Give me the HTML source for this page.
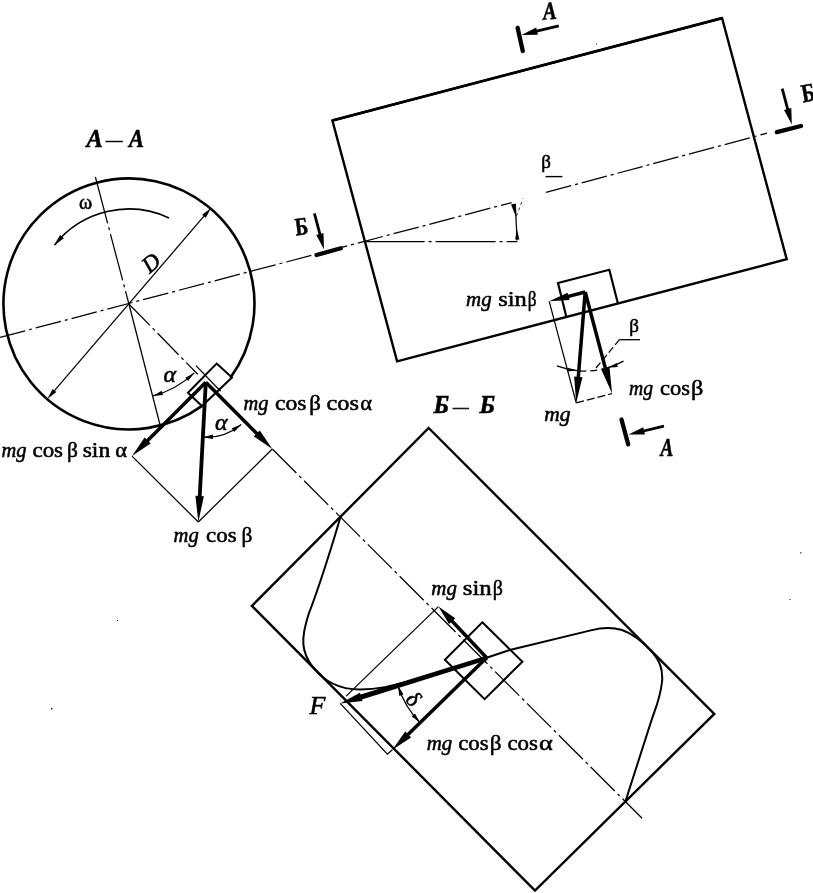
<!DOCTYPE html>
<html><head><meta charset="utf-8"><title>Forces on a particle in a rotating inclined drum</title>
<style>
html,body{margin:0;padding:0;background:#fff;}
svg{display:block;filter:grayscale(1);}
svg line,svg .n{stroke:#000;fill:none;}
svg .f{fill:#000;stroke:none;}
svg text{font-family:"Liberation Serif","DejaVu Serif",serif;fill:#000;stroke:#000;stroke-width:0.55px;}
svg .i{font-style:italic;}
svg .b{font-weight:bold;}
svg .bi{font-weight:bold;font-style:italic;}
</style></head><body>
<svg width="813" height="893" viewBox="0 0 813 893">
<rect x="0" y="0" width="813" height="893" fill="#fff"/>
<g>
<path class="n" d="M230.4,377.8 A125.5,125.5 0 1 0 202.1,405.9" stroke-width="2.6"/>
<line x1="0.0" y1="337.4" x2="511.6" y2="202.6" stroke-width="1.25" stroke-dasharray="26 4 3 4"/>
<line x1="546.0" y1="192.4" x2="767.0" y2="133.2" stroke-width="1.25" stroke-dasharray="26 4 3 4"/>
<line x1="95.4" y1="177.0" x2="128.9" y2="304.0" stroke-width="1.25" stroke-dasharray="48 4 3 4"/>
<line x1="128.9" y1="304.0" x2="160.6" y2="427.0" stroke-width="1.25"/>
<polygon class="f" points="47.3,398.9 52.6,389.0 56.3,392.1"/>
<line x1="52.3" y1="393.1" x2="206.1" y2="213.7" stroke-width="1.25"/>
<polygon class="f" points="211.1,207.9 205.8,217.8 202.1,214.7"/>
<line x1="128.9" y1="304.0" x2="197.8" y2="374.3" stroke-width="1.25" stroke-dasharray="30 4 3 4"/>
<polygon class="n" points="216.6,363.6 232.0,377.4 201.9,406.0 188.0,392.7" stroke-width="2"/>
<line x1="195.9" y1="365.6" x2="220.6" y2="391.2" stroke-width="1.25"/>
<line x1="205.8" y1="382.3" x2="142.9" y2="445.2" stroke-width="3.5"/>
<polygon class="f" points="132.0,456.1 144.6,437.5 150.6,443.5"/>
<line x1="205.8" y1="382.3" x2="199.3" y2="503.8" stroke-width="3.8"/>
<polygon class="f" points="198.3,522.0 195.4,495.8 203.9,496.3"/>
<line x1="205.8" y1="382.3" x2="261.4" y2="438.1" stroke-width="3.5"/>
<polygon class="f" points="272.3,449.0 253.8,436.4 259.8,430.4"/>
<line x1="132.0" y1="456.1" x2="198.3" y2="522.0" stroke-width="1.25"/>
<line x1="272.3" y1="449.0" x2="198.3" y2="522.0" stroke-width="1.25"/>
<line x1="272.3" y1="449.0" x2="642.1" y2="818.3" stroke-width="1.25" stroke-dasharray="34 4 3 4"/>
<path class="n" d="M152.8,395.9 A95,95 0 0 0 194.3,372.9" stroke-width="1.25"/>
<polygon class="f" points="152.8,395.9 161.7,390.8 163.0,395.0"/>
<polygon class="f" points="194.3,372.9 188.1,381.1 185.3,377.7"/>
<path class="n" d="M202.9,437.2 A55,55 0 0 0 241.2,424.4" stroke-width="1.25"/>
<polygon class="f" points="202.9,437.2 212.8,434.6 213.0,439.0"/>
<polygon class="f" points="241.2,424.4 234.2,431.9 231.7,428.3"/>
<path class="n" d="M169.0,217.9 A95,95 0 0 0 54.6,244.9" stroke-width="1.6"/>
<polygon class="f" points="54.0,245.5 60.1,234.9 63.9,238.2"/>
<polygon class="n" points="332.4,120.5 722.1,18.2 786.7,259.2 397.1,361.3" stroke-width="2.4"/>
<line x1="332.4" y1="120.5" x2="722.1" y2="18.2" stroke-width="2.8"/>
<line x1="364.6" y1="241.7" x2="517.3" y2="241.7" stroke-width="1.25" stroke-dasharray="60 4 3 4"/>
<line x1="515.3" y1="204.0" x2="517.1" y2="240.5" stroke-width="1.25"/>
<polygon class="f" points="516.3,217.8 511.0,204.6 515.5,203.6"/>
<polygon class="f" points="516.8,229.0 519.4,239.4 515.2,239.6"/>
<line x1="516.5" y1="216.0" x2="523.0" y2="198.5" stroke-width="0.8" stroke-dasharray="3 3"/>
<line x1="545.6" y1="176.6" x2="562.4" y2="176.6" stroke-width="1.4"/>
<polyline class="n" points="566.2,316.3 558.0,283.0 609.3,269.8 617.8,303.0" stroke-width="2.2"/>
<line x1="585.2" y1="292.0" x2="562.8" y2="297.8" stroke-width="3.4"/>
<polygon class="f" points="549.2,301.3 567.6,292.7 569.5,299.9"/>
<line x1="585.2" y1="292.0" x2="577.7" y2="384.7" stroke-width="3.5"/>
<polygon class="f" points="576.2,402.8 574.1,376.5 582.5,377.2"/>
<line x1="585.2" y1="292.0" x2="607.4" y2="375.9" stroke-width="3.5"/>
<polygon class="f" points="612.1,393.5 601.3,369.5 609.5,367.3"/>
<line x1="549.2" y1="301.3" x2="576.2" y2="402.8" stroke-width="1.25"/>
<line x1="576.2" y1="402.8" x2="612.1" y2="393.5" stroke-width="1.25" stroke-dasharray="8 3"/>
<path class="n" d="M579.3,370.8 A79,79 0 0 0 605.9,368.2" stroke-width="1.25" stroke-dasharray="7 4"/>
<path class="n" d="M556.9,365.8 A79,79 0 0 0 579.3,370.8" stroke-width="1.25"/>
<path class="n" d="M605.9,368.2 A79,79 0 0 0 623.5,361.1" stroke-width="1.25"/>
<polygon class="f" points="577.6,370.6 567.5,371.6 567.9,367.7"/>
<polygon class="f" points="607.6,367.7 616.7,363.1 617.8,367.0"/>
<line x1="596.0" y1="368.0" x2="619.4" y2="339.7" stroke-width="1.25" stroke-dasharray="7 3"/>
<line x1="619.4" y1="339.7" x2="640.0" y2="339.7" stroke-width="1.3"/>
<line x1="517.6" y1="27.8" x2="522.8" y2="51.0" stroke-width="4.3" stroke-linecap="round"/>
<line x1="558.8" y1="25.8" x2="532.4" y2="32.2" stroke-width="2.8"/>
<polygon class="f" points="521.5,34.9 536.2,27.5 537.9,34.8"/>
<line x1="316.5" y1="255.0" x2="340.8" y2="248.3" stroke-width="4.3" stroke-linecap="round"/>
<line x1="314.4" y1="213.3" x2="321.1" y2="238.7" stroke-width="2.8"/>
<polygon class="f" points="324.0,249.5 316.3,235.0 323.5,233.1"/>
<line x1="776.8" y1="132.1" x2="801.0" y2="126.0" stroke-width="4.3" stroke-linecap="round"/>
<line x1="782.2" y1="88.7" x2="788.9" y2="113.7" stroke-width="2.8"/>
<polygon class="f" points="791.8,124.5 784.0,110.0 791.3,108.1"/>
<line x1="621.5" y1="419.5" x2="628.2" y2="444.4" stroke-width="4.3" stroke-linecap="round"/>
<line x1="664.0" y1="426.1" x2="639.4" y2="432.0" stroke-width="2.8"/>
<polygon class="f" points="628.5,434.6 643.2,427.2 644.9,434.5"/>
<polygon class="n" points="428.7,428.0 714.3,713.9 535.0,890.6 251.9,605.9" stroke-width="2.4"/>
<polygon class="n" points="482.3,622.3 522.4,661.7 484.6,699.1 444.9,659.7" stroke-width="2"/>
<path class="n" stroke-width="2" d="M340.5,516.5 C334,540 318,590 309,613 C300,640 302,652 312,666 C324,682 340,689.5 360,689.5 C378,689.5 392,686 410,681"/>
<path class="n" stroke-width="2" d="M486.6,657.8 L509.8,650 L591.8,630.1 C600,628 612,627 622,630 C634,634 646,645 653,653 C661,662 663,672 662,682 C660,700 654,712 651.5,720.3 L625.4,801.5"/>
<line x1="486.6" y1="657.8" x2="448.0" y2="616.8" stroke-width="3.5"/>
<polygon class="f" points="438.4,606.6 455.2,618.2 449.0,624.1"/>
<line x1="486.6" y1="657.8" x2="403.4" y2="739.0" stroke-width="3.5"/>
<polygon class="f" points="392.4,749.8 405.2,731.4 411.1,737.5"/>
<polygon class="f" points="487.0,655.6 487.6,660.0 357,701.0 355.5,696.2"/>
<line x1="400.0" y1="684.8" x2="354.9" y2="698.8" stroke-width="4.2"/>
<polygon class="f" points="340.2,703.4 359.9,692.8 362.5,700.9"/>
<line x1="438.4" y1="606.6" x2="346.1" y2="696.1" stroke-width="1.25"/>
<polyline class="n" points="340.2,703.4 387.4,754.2 392.4,749.8" stroke-width="1.25"/>
<path class="n" d="M398.2,686.5 A93,93 0 0 0 420.3,723.0" stroke-width="1.25"/>
<polygon class="f" points="397.9,685.8 403.5,694.3 399.3,695.9"/>
<polygon class="f" points="419.9,722.6 411.7,716.6 415.0,713.6"/>
<rect class="f" x="800.2" y="552.3" width="1.2" height="1.2"/>
<rect class="f" x="789.5" y="599" width="1" height="1"/>
<rect class="f" x="117" y="620" width="1" height="1"/>
<rect class="f" x="51" y="708" width="1.4" height="1.4"/>
<rect class="f" x="596" y="43.5" width="1" height="1"/>
<text y="147.0" font-size="25" class="bi"><tspan x="86.4" textLength="15.0" lengthAdjust="spacingAndGlyphs">A</tspan> <tspan x="105.9" dy="-0.8" font-size="18.5" font-weight="normal">—</tspan> <tspan x="129.0" dy="0.8" textLength="15.0" lengthAdjust="spacingAndGlyphs">A</tspan></text>
<text y="412.6" font-size="25" class="bi"><tspan x="433.6" textLength="15.6" lengthAdjust="spacingAndGlyphs">Б</tspan> <tspan x="453" dy="-0.8" font-size="17.7" font-weight="normal">—</tspan> <tspan x="479.6" dy="0.8" textLength="15.6" lengthAdjust="spacingAndGlyphs">Б</tspan></text>
<text x="0.0" y="0.0" font-size="25" class="bi" transform="translate(543.6,19.8) rotate(-5)" textLength="13.6" lengthAdjust="spacingAndGlyphs">A</text>
<text x="660.4" y="455.6" font-size="25" class="bi" textLength="12.8" lengthAdjust="spacingAndGlyphs">A</text>
<text x="0.0" y="0.0" font-size="25" class="b" transform="translate(296.0,235.4) rotate(-7)" textLength="13" lengthAdjust="spacingAndGlyphs">Б</text>
<text x="0.0" y="0.0" font-size="26" class="b" transform="translate(803.0,102.6) rotate(-10)" textLength="13.5" lengthAdjust="spacingAndGlyphs">Б</text>
<text x="79.0" y="208.7" font-size="20" class="">ω</text>
<text x="0.0" y="0.0" font-size="23" class="i" transform="translate(149.5,274.0) rotate(-40)">D</text>
<text y="457.0" font-size="22"><tspan x="1.6" textLength="25.0" lengthAdjust="spacingAndGlyphs" class="i">mg</tspan> <tspan x="32.5" textLength="30.5" lengthAdjust="spacingAndGlyphs">cos</tspan> <tspan x="66.9" textLength="10.9" lengthAdjust="spacingAndGlyphs">β</tspan> <tspan x="82.7" textLength="27.5" lengthAdjust="spacingAndGlyphs">sin</tspan> <tspan x="115.2" textLength="11.8" lengthAdjust="spacingAndGlyphs">α</tspan></text>
<text y="410.2" font-size="22"><tspan x="243.4" textLength="25.0" lengthAdjust="spacingAndGlyphs" class="i">mg</tspan> <tspan x="274.9" textLength="31.5" lengthAdjust="spacingAndGlyphs">cos</tspan> <tspan x="309.3" textLength="11.6" lengthAdjust="spacingAndGlyphs">β</tspan> <tspan x="326.5" textLength="32.4" lengthAdjust="spacingAndGlyphs">cos</tspan> <tspan x="360.3" textLength="11.8" lengthAdjust="spacingAndGlyphs">α</tspan></text>
<text y="541.6" font-size="22"><tspan x="173.6" textLength="25.2" lengthAdjust="spacingAndGlyphs" class="i">mg</tspan> <tspan x="206.1" textLength="30.5" lengthAdjust="spacingAndGlyphs">cos</tspan> <tspan x="241.5" textLength="10.9" lengthAdjust="spacingAndGlyphs">β</tspan></text>
<text y="306.3" font-size="22"><tspan x="466.1" textLength="25.6" lengthAdjust="spacingAndGlyphs" class="i">mg</tspan> <tspan x="498.2" textLength="28.6" lengthAdjust="spacingAndGlyphs">sin</tspan> <tspan x="527.8" textLength="8.8" lengthAdjust="spacingAndGlyphs">β</tspan></text>
<text y="394.6" font-size="22"><tspan x="628.9" textLength="24.1" lengthAdjust="spacingAndGlyphs" class="i">mg</tspan> <tspan x="659.9" textLength="30.0" lengthAdjust="spacingAndGlyphs">cos</tspan> <tspan x="691.1" textLength="12.3" lengthAdjust="spacingAndGlyphs">β</tspan></text>
<text y="421.2" font-size="22"><tspan x="544.3" textLength="26.3" lengthAdjust="spacingAndGlyphs" class="i">mg</tspan></text>
<text y="594.6" font-size="22"><tspan x="431.3" textLength="25.6" lengthAdjust="spacingAndGlyphs" class="i">mg</tspan> <tspan x="462.8" textLength="28.9" lengthAdjust="spacingAndGlyphs">sin</tspan> <tspan x="492.7" textLength="10.2" lengthAdjust="spacingAndGlyphs">β</tspan></text>
<text y="749.6" font-size="22"><tspan x="426.7" textLength="25.6" lengthAdjust="spacingAndGlyphs" class="i">mg</tspan> <tspan x="458.2" textLength="30.5" lengthAdjust="spacingAndGlyphs">cos</tspan> <tspan x="489.7" textLength="11.8" lengthAdjust="spacingAndGlyphs">β</tspan> <tspan x="507.4" textLength="30.6" lengthAdjust="spacingAndGlyphs">cos</tspan> <tspan x="538.9" textLength="13.8" lengthAdjust="spacingAndGlyphs">α</tspan></text>
<text x="541.3" y="168.3" font-size="19" class="">β</text>
<text x="629.3" y="331.6" font-size="19" class="">β</text>
<text x="163.5" y="382.0" font-size="24" class="i">α</text>
<text x="215.0" y="429.5" font-size="24" class="i">α</text>
<text x="309.5" y="713.8" font-size="26" class="i">F</text>
<text x="0.0" y="0.0" font-size="23" class="" transform="translate(404.4,699.4) rotate(52)">δ</text>
</g>
</svg>
</body></html>
